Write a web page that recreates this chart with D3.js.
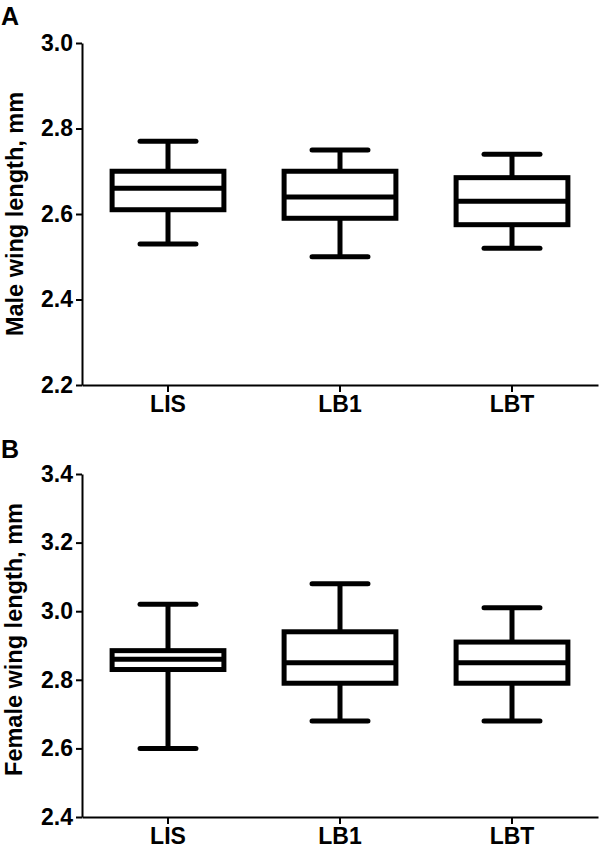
<!DOCTYPE html>
<html>
<head>
<meta charset="utf-8">
<script src="https://cdn.jsdelivr.net/npm/d3@7"></script>
<style>
    body { margin: 0; background: #fff; }
    text { font-family: "Liberation Sans", Arial, sans-serif; font-weight: bold; fill: #000; }
</style>
</head>
<body>
<div id="chart"></div>
<script>
var svgWidth = 600;
var svgHeight = 848;

// groups on the x axis
var groups = ["LIS", "LB1", "LBT"];

// panel A - males
var maleMin = [2.53, 2.50, 2.52];
var maleQ1 = [2.61, 2.59, 2.575];
var maleMedian = [2.66, 2.64, 2.63];
var maleQ3 = [2.70, 2.70, 2.685];
var maleMax = [2.77, 2.75, 2.74];
var maleTicks = [2.2, 2.4, 2.6, 2.8, 3.0];

// panel B - females
var femaleMin = [2.60, 2.68, 2.68];
var femaleQ1 = [2.83, 2.79, 2.79];
var femaleMedian = [2.86, 2.85, 2.85];
var femaleQ3 = [2.885, 2.94, 2.91];
var femaleMax = [3.02, 3.08, 3.01];
var femaleTicks = [2.4, 2.6, 2.8, 3.0, 3.2, 3.4];

var svg = d3.select("#chart")
    .append("svg")
    .attr("width", svgWidth)
    .attr("height", svgHeight);

function drawPanel(opts) {
    var boxes = groups.map(function(g, i) {
        return {
            name: g,
            min: opts.min[i],
            q1: opts.q1[i],
            median: opts.median[i],
            q3: opts.q3[i],
            max: opts.max[i]
        };
    });

    var xScale = d3.scaleBand()
        .domain(groups)
        .range([82, 598]);

    var yScale = d3.scaleLinear()
        .domain([opts.ticks[0], opts.ticks[opts.ticks.length - 1]])
        .range([opts.bottom, opts.top]);

    var boxW = xScale.bandwidth() * 0.65;
    var capW = boxW / 2;

    var g = svg.append("g");

    // y axis
    var leftAxis = d3.axisLeft(yScale)
        .tickValues(opts.ticks)
        .tickFormat(d3.format(".1f"))
        .tickSize(6)
        .tickSizeOuter(0)
        .tickPadding(3);

    var yAxis = g.append("g")
        .attr("transform", "translate(82, 0)")
        .call(leftAxis);

    // x axis
    var bottomAxis = d3.axisBottom(xScale)
        .tickSize(7)
        .tickSizeOuter(0)
        .tickPadding(4);

    var xAxis = g.append("g")
        .attr("transform", `translate(0, ${opts.bottom})`)
        .call(bottomAxis);

    g.selectAll(".domain, .tick line")
        .attr("stroke", "#000")
        .attr("stroke-width", 2);
    g.selectAll(".tick text")
        .attr("font-size", 23)
        .attr("font-family", null);

    var boxGroup = g.selectAll(".box")
        .data(boxes)
        .enter().append("g")
        .classed("box", true)
        .attr("transform", d => `translate(${xScale(d.name) + xScale.bandwidth() / 2}, 0)`);

    // whisker stems
    boxGroup.append("line")
        .attr("x1", 0).attr("x2", 0)
        .attr("y1", d => yScale(d.max))
        .attr("y2", d => yScale(d.min))
        .attr("stroke", "#000")
        .attr("stroke-width", 5);

    // whisker caps
    boxGroup.selectAll(".cap")
        .data(d => [d.min, d.max])
        .enter().append("line")
        .classed("cap", true)
        .attr("x1", -capW / 2).attr("x2", capW / 2)
        .attr("y1", v => yScale(v))
        .attr("y2", v => yScale(v))
        .attr("stroke", "#000")
        .attr("stroke-width", 5)
        .attr("stroke-linecap", "round");

    // box
    boxGroup.append("rect")
        .attr("x", -boxW / 2)
        .attr("width", boxW)
        .attr("y", d => yScale(d.q3))
        .attr("height", d => yScale(d.q1) - yScale(d.q3))
        .attr("fill", "#fff")
        .attr("stroke", "#000")
        .attr("stroke-width", 5);

    // median
    boxGroup.append("line")
        .attr("x1", -boxW / 2).attr("x2", boxW / 2)
        .attr("y1", d => yScale(d.median))
        .attr("y2", d => yScale(d.median))
        .attr("stroke", "#000")
        .attr("stroke-width", 5);

    // axis title
    g.append("text")
        .attr("transform", "rotate(-90)")
        .attr("x", -(opts.top + opts.bottom) / 2 + opts.titleShift)
        .attr("y", opts.titleY)
        .attr("text-anchor", "middle")
        .attr("font-size", 23.5)
        .text(opts.title);

    // panel letter
    g.append("text")
        .attr("x", 1)
        .attr("y", opts.letterY)
        .attr("font-size", 25)
        .text(opts.letter);
}

drawPanel({
    min: maleMin, q1: maleQ1, median: maleMedian, q3: maleQ3, max: maleMax,
    ticks: maleTicks,
    top: 43, bottom: 385,
    title: "Male wing length, mm",
    titleY: 23, titleShift: 0,
    letter: "A", letterY: 25
});

drawPanel({
    min: femaleMin, q1: femaleQ1, median: femaleMedian, q3: femaleQ3, max: femaleMax,
    ticks: femaleTicks,
    top: 474, bottom: 817,
    title: "Female wing length, mm",
    titleY: 22, titleShift: 6,
    letter: "B", letterY: 458
});
</script>
</body>
</html>
